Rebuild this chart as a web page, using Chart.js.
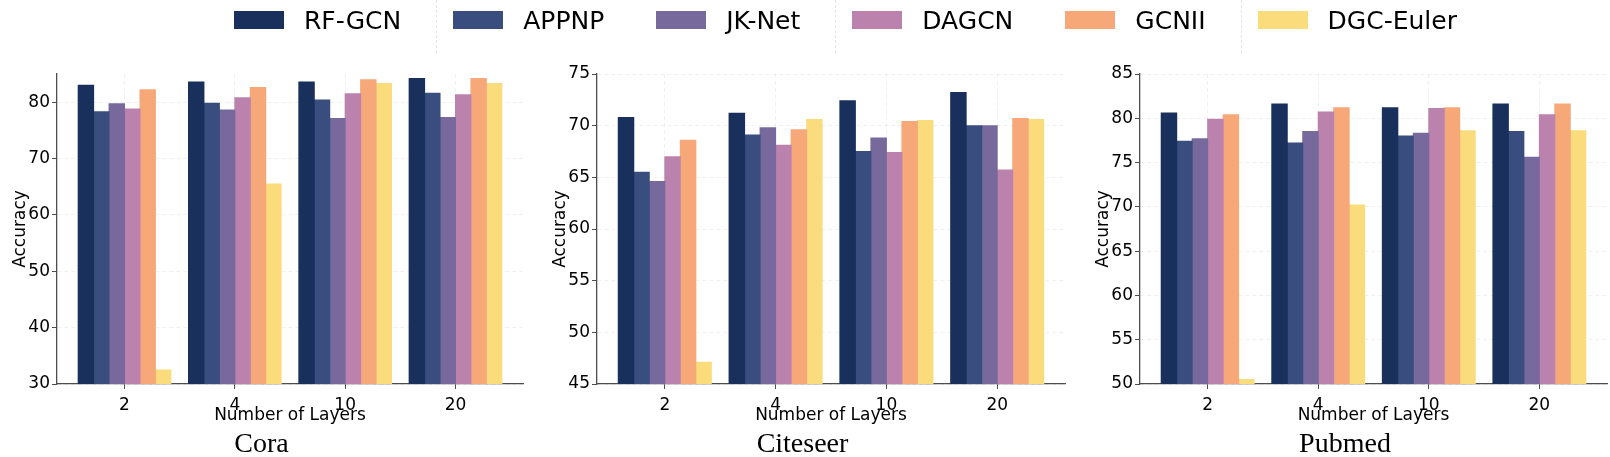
<!DOCTYPE html>
<html>
<head>
<meta charset="utf-8">
<script src="https://cdn.jsdelivr.net/npm/chart.js@4.4.0/dist/chart.umd.min.js"></script>
<style>
  body { margin: 0; width: 1610px; height: 457px; position: relative; background: #fff; overflow: hidden; font-family: "DejaVu Sans", sans-serif; }
  #legend { position: absolute; top: 0; left: 234px; display: flex; z-index: 2; }
  .item { display: flex; align-items: center; height: 40px; margin-right: 52px; position: relative; font-size: 25px; color: #000; }
  .sw { width: 50px; height: 18px; margin-right: 20px; }
  .item.sep::after { content: ""; position: absolute; right: -36px; top: 0; height: 53px; border-left: 1.5px dashed #e6e6e6; }
  canvas { position: absolute; top: 0; }
</style>
</head>
<body>
<div id="legend"></div>
<canvas id="cora" style="left:0px"></canvas>
<canvas id="citeseer" style="left:540px"></canvas>
<canvas id="pubmed" style="left:1083px"></canvas>
<script>
const layers = ["2", "4", "10", "20"];
const methods = ["RF-GCN", "APPNP", "JK-Net", "DAGCN", "GCNII", "DGC-Euler"];
const colors = ["#19305c", "#3a4d7f", "#77699c", "#bc82ae", "#f7a879", "#fadc7c"];

// one row per method, one value per layer count
const cora = [
  [83.0, 83.6, 83.6, 84.2],
  [78.3, 79.8, 80.4, 81.6],
  [79.7, 78.6, 77.1, 77.3],
  [78.8, 80.8, 81.5, 81.3],
  [82.2, 82.6, 84.0, 84.2],
  [32.5, 65.5, 83.3, 83.3]
];
const citeseer = [
  [70.8, 71.2, 72.4, 73.2],
  [65.5, 69.1, 67.5, 70.0],
  [64.6, 69.8, 68.8, 70.0],
  [67.0, 68.1, 67.4, 65.7],
  [68.6, 69.6, 70.4, 70.7],
  [47.1, 70.6, 70.5, 70.6]
];
const pubmed = [
  [80.6, 81.6, 81.2, 81.6],
  [77.4, 77.2, 78.0, 78.5],
  [77.7, 78.5, 78.3, 75.6],
  [79.9, 80.7, 81.1, 80.4],
  [80.4, 81.2, 81.2, 81.6],
  [50.5, 70.2, 78.6, 78.6]
];

// legend (shared by the three panels)
const legend = document.getElementById("legend");
methods.forEach(function (m, i) {
  const item = document.createElement("div");
  item.className = "item" + (i % 2 === 0 ? " sep" : "");
  item.innerHTML = '<div class="sw" style="background:' + colors[i] + '"></div><span>' + m + "</span>";
  legend.appendChild(item);
});

const gridColor = "rgba(0,0,0,0.06)";
const axisColor = "#4d4d4d";

function makeChart(id, name, values, yMin, yMax, step, width, padRight) {
  const canvas = document.getElementById(id);
  canvas.width = width;
  canvas.height = 457;
  canvas.style.width = width + "px";
  canvas.style.height = "457px";

  const datasets = values.map(function (v, i) {
    return {
      label: methods[i],
      data: v,
      backgroundColor: colors[i],
      borderWidth: 0,
      inflateAmount: 0.5,
      categoryPercentage: 0.84,
      barPercentage: 1.0
    };
  });

  return new Chart(canvas.getContext("2d"), {
    type: "bar",
    data: { labels: [0, 1, 2, 3], datasets: datasets },
    options: {
      responsive: false,
      animation: false,
      layout: { padding: { left: 0, right: padRight, top: 74, bottom: 0 } },
      plugins: {
        legend: { display: false },
        tooltip: { enabled: false },
        title: {
          display: true,
          position: "bottom",
          text: name,
          color: "#000",
          font: { family: "Liberation Serif", size: 28, weight: "normal", lineHeight: 0.85 },
          padding: { top: 0, bottom: 0 }
        }
      },
      scales: {
        x: {
          type: "linear",
          min: -0.612,
          max: 3.612,
          offset: false,
          afterBuildTicks: function (scale) {
            scale.ticks = layers.map(function (l, i) { return { value: i }; });
          },
          afterFit: function (scale) { scale.height = 49.2; },
          ticks: {
            color: "#000",
            font: { family: "DejaVu Sans", size: 17 },
            padding: 6,
            maxRotation: 0,
            callback: function (v) { return layers[v]; }
          },
          grid: { offset: false, color: gridColor, lineWidth: 1, tickLength: 5, tickColor: axisColor, tickWidth: 1 },
          border: { color: axisColor, width: 1.3, dash: [4, 3] },
          title: {
            display: true,
            text: "Number of Layers",
            color: "#000",
            font: { family: "DejaVu Sans", size: 17 },
            padding: { top: 0, bottom: 7 }
          }
        },
        y: {
          min: yMin,
          max: yMax,
          afterFit: function (scale) { scale.width = 57; },
          ticks: {
            stepSize: step,
            includeBounds: false,
            color: "#000",
            font: { family: "DejaVu Sans", size: 17 },
            padding: 2
          },
          grid: { color: gridColor, lineWidth: 1, tickLength: 5, tickColor: axisColor, tickWidth: 1 },
          border: { color: axisColor, width: 1.3, dash: [4, 3] },
          title: {
            display: true,
            text: "Accuracy",
            color: "#000",
            font: { family: "DejaVu Sans", size: 17 },
            padding: { top: 10, bottom: 0 }
          }
        }
      }
    }
  });
}

makeChart("cora", "Cora", cora, 30, 85, 10, 536, 13);
makeChart("citeseer", "Citeseer", citeseer, 45, 75, 5, 538, 13);
makeChart("pubmed", "Pubmed", pubmed, 50, 85, 5, 527, 3);
</script>
</body>
</html>
